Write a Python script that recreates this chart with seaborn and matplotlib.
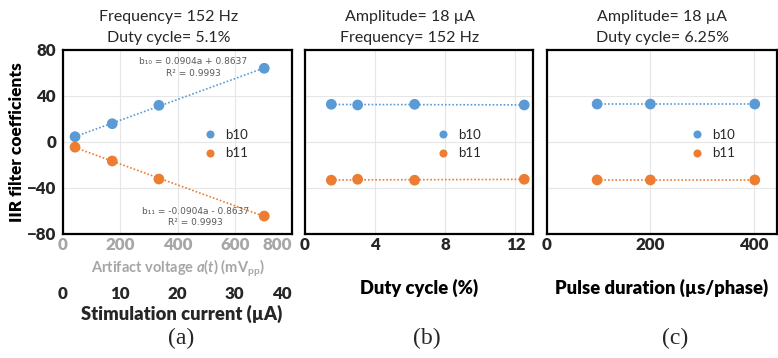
import numpy as np
import pandas as pd
import seaborn as sns
import matplotlib.pyplot as plt

sns.set_theme(style="white")
plt.rcParams['font.family'] = ['Lato', 'DejaVu Sans']
plt.rcParams['mathtext.fontset'] = 'custom'
plt.rcParams['mathtext.rm'] = 'Lato:bold'
plt.rcParams['mathtext.it'] = 'Lato:italic:bold'
plt.rcParams['mathtext.bf'] = 'Lato:bold'

# ---------------- data ----------------
series_names = ["b10", "b11"]
colors = {"b10": "#5B9BD5", "b11": "#ED7D31"}

a_voltage = [42, 172, 335, 703]
a_b10 = [4.6, 15.9, 31.9, 64.1]
a_b11 = [-4.5, -16.5, -32.2, -64.4]

b_duty = [1.5, 3.0, 6.25, 12.5]
b_b10 = [32.8, 32.2, 32.8, 32.2]
b_b11 = [-33.2, -32.4, -33.2, -32.4]

c_pulse = [97, 200, 402]
c_b10 = [33.0, 33.0, 33.0]
c_b11 = [-33.0, -33.0, -33.0]

titles = [["Frequency= 152 Hz", "Duty cycle= 5.1%"],
          ["Amplitude= 18 µA", "Frequency= 152 Hz"],
          ["Amplitude= 18 µA", "Duty cycle= 6.25%"]]
xlabels = ["Artifact voltage $a$($t$) (mV$_{\\mathrm{pp}}$)", "Duty cycle (%)", "Pulse duration (µs/phase)"]
panel_tags = ["(a)", "(b)", "(c)"]
y_ticks = [-80, -40, 0, 40, 80]
a_xticks = [0, 200, 400, 600, 800]
stim_ticks = [0, 10, 20, 30, 40]
b_xticks = [0, 4, 8, 12]
c_xticks = [0, 200, 400]


def long_df(x, b10, b11):
    return pd.DataFrame({"x": list(x) * 2, "y": list(b10) + list(b11),
                         "series": ["b10"] * len(x) + ["b11"] * len(x)})


dfs = [long_df(a_voltage, a_b10, a_b11),
       long_df(b_duty, b_b10, b_b11),
       long_df(c_pulse, c_b10, c_b11)]

W, H = 778, 358
fig = plt.figure(figsize=(W / 100, H / 100), dpi=100)

boxes = [(63, 292), (305, 533), (547, 777)]
top_px, bot_px = 50, 234
AH = bot_px - top_px
xlims = [(0, 800), (0, 13), (0, 445)]
xticks_list = [a_xticks, b_xticks, c_xticks]
title_x = [169, 410, 662]
tag_x = [181, 427, 675]
legend_pos = [((197 - 63) / 229, 0.49), ((430 - 305) / 228, 0.49), ((684 - 547) / 230, 0.49)]
TICK_FS = 12.2
LAB_FS = 13.2

axes = []
for i in range(3):
    l, r = boxes[i]
    ax = fig.add_axes([l / W, 1 - bot_px / H, (r - l) / W, AH / H])
    axes.append(ax)
    df = dfs[i]
    for s in series_names:
        sub = df[df.series == s]
        sns.regplot(data=sub, x="x", y="y", ax=ax, scatter=False, ci=None, truncate=True,
                    line_kws=dict(ls=(0, (1, 1.2)), lw=1.2, color=colors[s]))
    sns.scatterplot(data=df, x="x", y="y", hue="series", palette=colors, s=60,
                    edgecolor="none", ax=ax, zorder=3, legend=True)
    ax.set_xlim(*xlims[i])
    ax.set_ylim(-80, 80)
    ax.set_xticks(xticks_list[i])
    ax.set_yticks(y_ticks)
    ax.grid(True, color="#e6e6e6", lw=0.8)
    ax.set_axisbelow(True)
    for sp in ax.spines.values():
        sp.set_color("black")
        sp.set_linewidth(1.6)
    ax.tick_params(axis="x", length=0, pad=2, labelsize=TICK_FS)
    ax.tick_params(axis="y", length=0, pad=5, labelsize=TICK_FS)
    for lab in ax.get_xticklabels() + ax.get_yticklabels():
        lab.set_fontweight("heavy")
    if i == 0:
        ax.set_ylabel("IIR filter coefficients", fontsize=12.4, fontweight="heavy", color="black")
        ax.yaxis.set_label_coords(-(63 - 17) / (292 - 63), 0.5)
        ax.yaxis.label.set_va("center")
        for lab in ax.get_xticklabels():
            lab.set_color("#a6a6a6")
        ax.get_xticklabels()[-1].set_ha("right")
    else:
        ax.set_ylabel("")
        ax.set_yticklabels([])
    # xlabel
    if i == 0:
        ax.set_xlabel(xlabels[i], fontsize=10.5, fontweight="bold", color="#a6a6a6")
        ax.xaxis.set_label_coords(0.5, -(268 - bot_px) / AH)
    else:
        ax.set_xlabel(xlabels[i], fontsize=LAB_FS, fontweight="heavy", color="black")
        ax.xaxis.set_label_coords(0.5, -(288 - bot_px) / AH)
    ax.xaxis.label.set_va("center")
    # legend
    handles, labels = ax.get_legend_handles_labels()
    ax.legend(handles, labels, loc="center left", bbox_to_anchor=legend_pos[i], frameon=False,
              fontsize=9.5, markerscale=0.75, handletextpad=0.6, labelspacing=0.5,
              borderpad=0, handlelength=1.0)
    # titles
    fig.text(title_x[i] / W, 1 - 17 / H, titles[i][0], ha="center", va="center", fontsize=11.5)
    fig.text(title_x[i] / W, 1 - 38 / H, titles[i][1], ha="center", va="center", fontsize=11.5)
    fig.text(tag_x[i] / W, 1 - 338 / H, panel_tags[i], ha="center", va="center", fontsize=17,
             family="Liberation Serif")

# secondary stimulation-current axis for panel (a)
ax = axes[0]
sec = ax.secondary_xaxis(-(285 - bot_px) / AH, functions=(lambda v: v / 20, lambda v: v * 20))
sec.set_xticks(stim_ticks)
sec.spines["bottom"].set_visible(False)
sec.tick_params(length=0, pad=1, labelsize=TICK_FS)
for lab in sec.get_xticklabels():
    lab.set_fontweight("heavy")
sec.get_xticklabels()[-1].set_ha("right")
fig.text((63 + 292) / 2 / W + 0.005, 1 - 314 / H, "Stimulation current (µA)", ha="center", va="center",
         fontsize=LAB_FS, fontweight="heavy")

# regression equations
eq_kw = dict(ha="center", va="center", fontsize=6.5, color="#595959", family=["DejaVu Sans"])
ax.text(455, 70.4, "b₁₀ = 0.0904a + 0.8637", **eq_kw)
ax.text(455, 60.0, "R² = 0.9993", **eq_kw)
ax.text(462, -60.0, "b₁₁ = -0.0904a - 0.8637", **eq_kw)
ax.text(462, -70.4, "R² = 0.9993", **eq_kw)

fig.savefig("out.png", dpi=100)
